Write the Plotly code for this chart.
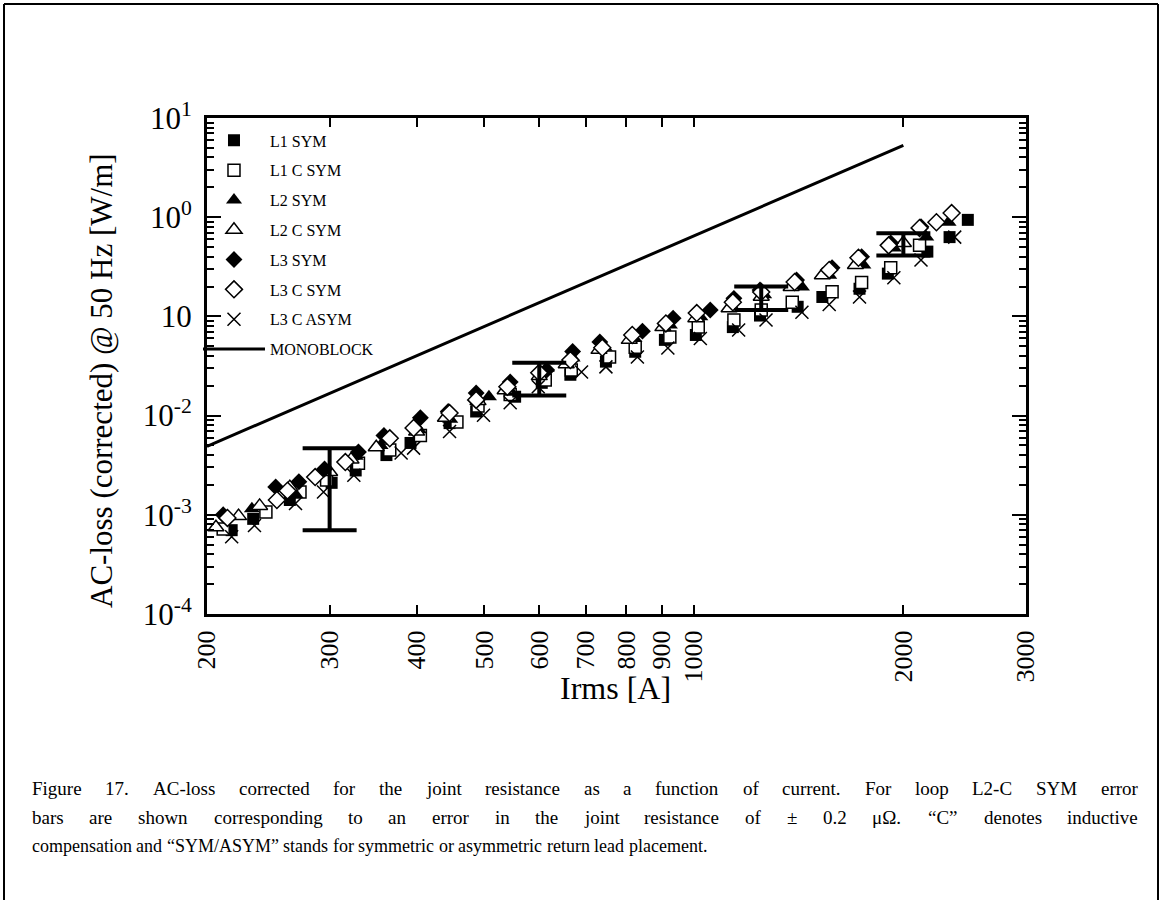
import plotly.graph_objects as go

# ---------------- data ----------------
l1_sym_I = [217, 233, 263, 302, 327, 362, 392, 446, 487, 554, 605, 665, 748, 824, 909, 1007, 1138, 1245, 1410, 1530, 1730, 1900, 2165, 2330, 2475]
l1_sym_V = [0.00070, 0.00091, 0.00141, 0.0021, 0.0028, 0.0040, 0.0053, 0.0084, 0.0110, 0.0155, 0.0214, 0.0258, 0.035, 0.044, 0.058, 0.065, 0.078, 0.102, 0.125, 0.157, 0.19, 0.27, 0.45, 0.63, 0.94]

l1c_sym_I = [211, 243, 272, 297, 330, 366, 405, 457, 490, 545, 612, 667, 757, 824, 924, 1015, 1142, 1250, 1385, 1580, 1742, 1918, 2110]
l1c_sym_V = [0.00072, 0.00107, 0.0017, 0.00224, 0.0033, 0.0045, 0.0063, 0.0086, 0.0125, 0.0163, 0.0229, 0.0288, 0.039, 0.049, 0.062, 0.078, 0.092, 0.116, 0.139, 0.177, 0.22, 0.31, 0.52]

l2_sym_I = [232, 268, 296, 327, 355, 403, 447, 508, 547, 615, 670, 745, 822, 924, 1022, 1135, 1262, 1430, 1565, 1752, 1938, 2157, 2322]
l2_sym_V = [0.00115, 0.0016, 0.0027, 0.0039, 0.0050, 0.0072, 0.0092, 0.0155, 0.0172, 0.030, 0.038, 0.049, 0.060, 0.082, 0.099, 0.125, 0.165, 0.198, 0.26, 0.33, 0.49, 0.63, 0.89]

l2c_sym_I = [206, 222, 238, 263, 300, 322, 350, 400, 440, 490, 536, 600, 656, 731, 808, 903, 1007, 1124, 1250, 1380, 1530, 1707, 2000]
l2c_sym_V = [0.00075, 0.00097, 0.00123, 0.0019, 0.0027, 0.0036, 0.0048, 0.0069, 0.0095, 0.0140, 0.018, 0.025, 0.033, 0.046, 0.058, 0.078, 0.096, 0.121, 0.158, 0.198, 0.26, 0.33, 0.55]
# error in joint resistance (+/- 0.2 micro-ohm), only shown at four currents
l2c_sym_err = [None, None, None, None, 0.0020, None, None, None, None, None, None, 0.0091, None, None, None, None, None, None, 0.042, None, None, None, 0.14]

l3_sym_I = [211, 251, 271, 295, 330, 359, 405, 444, 487, 545, 615, 670, 733, 844, 934, 1056, 1142, 1245, 1405, 1580, 1742, 1918, 2120]
l3_sym_V = [0.00100, 0.00191, 0.00215, 0.0029, 0.0043, 0.0063, 0.0095, 0.0110, 0.0169, 0.0218, 0.0288, 0.0442, 0.0553, 0.071, 0.096, 0.116, 0.152, 0.185, 0.233, 0.31, 0.40, 0.55, 0.80]

l3c_sym_I = [214, 252, 261, 286, 316, 366, 396, 446, 487, 540, 600, 665, 739, 816, 912, 1010, 1138, 1250, 1396, 1565, 1724, 1905, 2110, 2231, 2346]
l3c_sym_V = [0.00093, 0.00141, 0.00175, 0.0024, 0.0034, 0.0059, 0.0075, 0.0106, 0.0144, 0.0195, 0.027, 0.0363, 0.0483, 0.065, 0.085, 0.108, 0.139, 0.176, 0.222, 0.294, 0.39, 0.52, 0.78, 0.89, 1.10]

l3c_asym_I = [217, 234, 268, 294, 325, 380, 396, 446, 499, 545, 598, 690, 748, 830, 918, 1022, 1160, 1270, 1430, 1565, 1730, 1938, 2120, 2370]
l3c_asym_V = [0.00060, 0.00078, 0.0013, 0.0017, 0.0025, 0.0042, 0.0047, 0.0069, 0.0101, 0.0135, 0.0195, 0.0275, 0.031, 0.039, 0.048, 0.060, 0.073, 0.092, 0.110, 0.132, 0.157, 0.245, 0.37, 0.63]

mono_I = [200, 2000]
mono_V = [0.0049, 5.3]

x_tickvals = [200, 300, 400, 500, 600, 700, 800, 900, 1000, 2000, 3000]
x_ticktext = ["200", "300", "400", "500", "600", "700", "800", "900", "1000", "2000", "3000"]
y_tickvals = [1e-4, 1e-3, 1e-2, 1e-1, 1, 10]
y_ticktext = ["10<sup>-4</sup>", "10<sup>-3</sup>", "10<sup>-2</sup>", "10", "10<sup>0</sup>", "10<sup>1</sup>"]

caption_lines = [
    "Figure 17. AC-loss corrected for the joint resistance as a function of current. For loop L2-C SYM error",
    "bars are shown corresponding to an error in the joint resistance of \u00b1 0.2 \u03bc\u03a9. \u201cC\u201d denotes inductive",
    "compensation and \u201cSYM/ASYM\u201d stands for symmetric or asymmetric return lead placement.",
]

# ---------------- layout geometry ----------------
W, H = 1163, 900
L, R, T, B = 207, 1026, 118, 614
SERIF = "Liberation Serif, Times New Roman, serif"


def px_x(px):
    return (px - L) / (R - L)


def px_y(py):
    return (B - py) / (B - T)


fig = go.Figure()

open_line = dict(color="black", width=1.5)

fig.add_trace(go.Scatter(x=l1_sym_I, y=l1_sym_V, mode="markers", name="L1 SYM", legendgroup="a",
                         marker=dict(symbol="square", size=12, color="black")))
fig.add_trace(go.Scatter(x=l1c_sym_I, y=l1c_sym_V, mode="markers", name="L1 C SYM", legendgroup="b",
                         marker=dict(symbol="square", size=12, color="white", line=open_line)))
fig.add_trace(go.Scatter(x=l2_sym_I, y=l2_sym_V, mode="markers", name="L2 SYM", legendgroup="c",
                         marker=dict(symbol="triangle-up", size=14, color="black")))
fig.add_trace(go.Scatter(x=l2c_sym_I, y=l2c_sym_V, mode="markers", name="L2 C SYM", legendgroup="d",
                         marker=dict(symbol="triangle-up", size=14, color="white", line=open_line)))
fig.add_trace(go.Scatter(x=l3_sym_I, y=l3_sym_V, mode="markers", name="L3 SYM", legendgroup="e",
                         marker=dict(symbol="diamond", size=13, color="black")))
fig.add_trace(go.Scatter(x=l3c_sym_I, y=l3c_sym_V, mode="markers", name="L3 C SYM", legendgroup="f",
                         marker=dict(symbol="diamond", size=13, color="white", line=open_line)))
fig.add_trace(go.Scatter(x=l3c_asym_I, y=l3c_asym_V, mode="markers", name="L3 C ASYM", legendgroup="g",
                         marker=dict(symbol="x-thin-open", size=13, color="black", line=dict(color="black", width=1.5))))
fig.add_trace(go.Scatter(x=mono_I, y=mono_V, mode="lines", name="MONOBLOCK", legendgroup="h",
                         line=dict(color="black", width=3)))

# error bars for L2-C SYM
err_I = [i for i, e in zip(l2c_sym_I, l2c_sym_err) if e is not None]
err_V = [v for v, e in zip(l2c_sym_V, l2c_sym_err) if e is not None]
err_E = [e for e in l2c_sym_err if e is not None]
fig.add_trace(go.Scatter(x=err_I, y=err_V, mode="markers", showlegend=False, hoverinfo="skip",
                         marker=dict(size=1, color="rgba(0,0,0,0)"),
                         error_y=dict(type="data", array=err_E, symmetric=True, color="black",
                                      thickness=4, width=27)))

minor_y = [m * 10 ** e for e in range(-4, 1) for m in range(2, 10)]

fig.update_layout(
    width=W, height=H, autosize=False,
    margin=dict(l=L, r=W - R, t=T, b=H - B, pad=0),
    paper_bgcolor="white", plot_bgcolor="white",
    font=dict(family=SERIF, color="black"),
    showlegend=True,
    legend=dict(x=-0.011, y=0.989, xanchor="left", yanchor="top", bgcolor="rgba(0,0,0,0)",
                font=dict(family=SERIF, size=16, color="black"), itemwidth=62,
                traceorder="grouped", tracegroupgap=6),
    xaxis=dict(type="log", range=[2.30103, 3.4771213], tickvals=x_tickvals, ticktext=x_ticktext,
               tickangle=-90, ticks="inside", ticklen=9, tickwidth=2, tickcolor="black",
               showline=True, linewidth=3, linecolor="black", mirror="ticks",
               showgrid=False, zeroline=False, ticklabelstandoff=3,
               tickfont=dict(family=SERIF, size=26, color="black")),
    yaxis=dict(type="log", range=[-4, 1], tickvals=y_tickvals, ticktext=y_ticktext,
               ticks="inside", ticklen=14, tickwidth=2, tickcolor="black",
               minor=dict(tickvals=minor_y, ticks="inside", ticklen=7, tickwidth=1.5, tickcolor="black", showgrid=False),
               showline=True, linewidth=3, linecolor="black", mirror="ticks",
               showgrid=False, zeroline=False, ticklabelstandoff=6,
               tickfont=dict(family=SERIF, size=31, color="black")),
)

# axis titles
fig.add_annotation(text="Irms [A]", xref="paper", yref="paper", x=px_x(615), y=px_y(688),
                   showarrow=False, xanchor="center", yanchor="middle",
                   font=dict(family=SERIF, size=32, color="black"))
fig.add_annotation(text="AC-loss (corrected) @ 50 Hz [W/m]", xref="paper", yref="paper",
                   x=px_x(101), y=px_y(381), textangle=-90, showarrow=False,
                   xanchor="center", yanchor="middle",
                   font=dict(family=SERIF, size=31, color="black"))

# page border (open at the bottom)
fig.add_shape(type="line", xref="paper", yref="paper", x0=px_x(4), x1=px_x(4), y0=px_y(4), y1=px_y(910),
              line=dict(color="black", width=2))
fig.add_shape(type="line", xref="paper", yref="paper", x0=px_x(1158), x1=px_x(1158), y0=px_y(4), y1=px_y(910),
              line=dict(color="black", width=2))
fig.add_shape(type="line", xref="paper", yref="paper", x0=px_x(4), x1=px_x(1158), y0=px_y(4), y1=px_y(4),
              line=dict(color="black", width=2))

# caption, justified like the source document
TW = {' ': 250, '.': 250, ',': 250, '-': 333, '/': 278, '\u201c': 444, '\u201d': 444, '\u00b1': 564,
      '\u03bc': 576, '\u03a9': 768, '(': 333, ')': 333}
TW.update(dict(zip("abcdefghijklmnopqrstuvwxyz",
                   [444, 500, 444, 500, 444, 333, 500, 500, 278, 278, 500, 278, 778, 500, 500, 500, 500, 333, 389, 278, 500, 500, 722, 500, 500, 444])))
TW.update(dict(zip("ABCDEFGHIJKLMNOPQRSTUVWXYZ",
                   [722, 667, 667, 722, 611, 556, 722, 722, 333, 389, 722, 611, 889, 722, 722, 556, 722, 667, 556, 611, 722, 722, 944, 722, 722, 611])))
for d in "0123456789":
    TW[d] = 500

CAP_FS = [19, 19, 18]
CAP_LEFT, CAP_RIGHT = 30, 1136
cap_y = [788, 817, 846]
for li, (line, yy, fs) in enumerate(zip(caption_lines, cap_y, CAP_FS)):
    words = line.split(" ")
    widths = [sum(TW.get(c, 500) for c in w) * fs / 1000 for w in words]
    if li < len(caption_lines) - 1:
        gap = (CAP_RIGHT - CAP_LEFT - sum(widths)) / (len(words) - 1)
    else:
        gap = 250 * fs / 1000
    xx = CAP_LEFT
    for w, wd in zip(words, widths):
        fig.add_annotation(text=w, xref="paper", yref="paper", x=px_x(xx), y=px_y(yy),
                           showarrow=False, xanchor="left", yanchor="middle",
                           font=dict(family=SERIF, size=fs, color="black"))
        xx += wd + gap

fig.write_html("out.html")
